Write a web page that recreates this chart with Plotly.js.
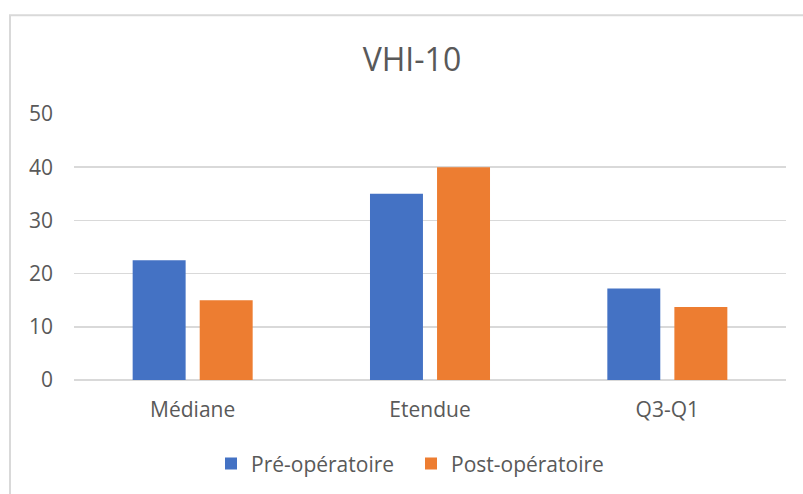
<!DOCTYPE html>
<html>
<head>
<meta charset="utf-8">
<script src="https://cdn.plot.ly/plotly-3.0.1.min.js"></script>
<style>
html,body{margin:0;padding:0;background:#fff;}
#chart{width:803px;height:494px;}
</style>
</head>
<body>
<div id="chart"></div>
<script>
const categories = ["Médiane", "Etendue", "Q3-Q1"];
const preOp = [22.5, 35, 17.2];
const postOp = [15, 40, 13.7];
const seriesNames = ["Pré-opératoire", "Post-opératoire"];
const yTicks = [0, 10, 20, 30, 40, 50];

const FONT = "Open Sans, sans-serif";
const GREY = "#595959";

const traces = [
  {type: "bar", name: seriesNames[0], x: categories, y: preOp,
   marker: {color: "#4472C4"}, hoverinfo: "x+y+name"},
  {type: "bar", name: seriesNames[1], x: categories, y: postOp,
   marker: {color: "#ED7D31"}, hoverinfo: "x+y+name"}
];

const layout = {
  width: 803, height: 494,
  margin: {l: 74, r: 17, t: 114, b: 114, autoexpand: false},
  paper_bgcolor: "#ffffff", plot_bgcolor: "#ffffff",
  font: {family: FONT, color: GREY, size: 21},
  title: {text: "VHI-10", font: {family: FONT, size: 32, color: GREY},
          x: 0.513, xref: "container", xanchor: "center",
          y: 1 - 60/494, yref: "container", yanchor: "middle", automargin: false},
  barmode: "group", bargap: 0.435, bargroupgap: 0.21,
  xaxis: {type: "category", showgrid: false, zeroline: false, showline: false,
          ticks: "", tickfont: {size: 21, color: GREY, family: FONT},
          ticklabelstandoff: 15, fixedrange: true, automargin: false},
  yaxis: {range: [0, 50], tickvals: yTicks, ticktext: yTicks.map(String),
          showgrid: true, gridcolor: "#d9d9d9", gridwidth: 1.5,
          zeroline: true, zerolinecolor: "#d9d9d9", zerolinewidth: 1.5,
          showline: false, ticks: "", tickfont: {size: 21, color: GREY, family: FONT},
          ticklabelstandoff: 20, fixedrange: true, automargin: false},
  legend: {orientation: "h", x: (211 - 74) / 712, xanchor: "left", y: -0.315, yanchor: "middle",
           font: {size: 21, color: GREY, family: FONT}, traceorder: "normal",
           entrywidth: 155, entrywidthmode: "pixels",
           bgcolor: "rgba(0,0,0,0)"},
  shapes: [{type: "rect", xref: "paper", yref: "paper",
            x0: (10 - 74) / 712, x1: 1.2, y0: -0.6, y1: (379.7 - 15) / 266,
            line: {color: "#d9d9d9", width: 2}, fillcolor: "rgba(0,0,0,0)", layer: "below"}]
};

Plotly.newPlot("chart", traces, layout, {displayModeBar: false, staticPlot: true});
</script>
</body>
</html>
